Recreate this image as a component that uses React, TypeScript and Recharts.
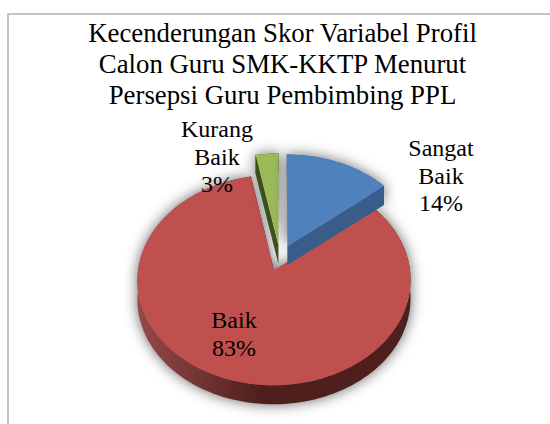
import React from 'react';
import {PieChart, Pie, Cell} from 'recharts';

const categories = ['Baik', 'Kurang Baik', 'Sangat Baik'];
const values = [83, 3, 14];
const faceColors = ['#c0504d', '#9bbb59', '#4f81bd'];
const wallColors = ['url(#redWall)', '#3b4f1f', '#385d8a'];
const titleLines = ['Kecenderungan Skor Variabel Profil', 'Calon Guru SMK-KKTP Menurut', 'Persepsi Guru Pembimbing PPL'];

const FONT = '"Liberation Serif", serif';
const WIDTH = 550;
const HEIGHT = 424;

// tilt of the pie plane, perspective strength, slice explosion, wall height
const TILT = 0.758;
const PERSP = 0.09;
const EXPLODE = 0.13;
const DEPTH = 19;

const labelOffsets: Record<string, [number, number]> = {
	'Baik': [-46, 70],
	'Kurang Baik': [-63, -121],
	'Sangat Baik': [161, -102],
};

const rad = (deg: number) => (deg * Math.PI) / 180;

function SliceShape(props: any) {
	const {cx, cy, outerRadius: R, startAngle, endAngle, index} = props;
	const mid = rad((startAngle + endAngle) / 2);
	const ox = Math.cos(mid) * EXPLODE;
	const oy = Math.sin(mid) * EXPLODE;
	// project a point of the unit disc onto the tilted plane
	const project = (u: number, v: number, drop = 0): [number, number] => {
		const w = 1 / (1 + PERSP * v);
		return [cx + R * u * w, cy - R * TILT * v * w + drop];
	};
	const count = Math.max(2, Math.ceil(Math.abs(endAngle - startAngle) / 2));
	const arc: [number, number][] = [];
	const arcDrop: [number, number][] = [];
	for (let i = 0; i <= count; i++) {
		const a = rad(startAngle + ((endAngle - startAngle) * i) / count);
		const u = ox + Math.cos(a);
		const v = oy + Math.sin(a);
		arc.push(project(u, v));
		arcDrop.push(project(u, v, DEPTH));
	}
	const apex = project(ox, oy);
	const apexDrop = project(ox, oy, DEPTH);
	const toPath = (pts: [number, number][]) =>
		'M' + pts.map((p) => p[0].toFixed(1) + ' ' + p[1].toFixed(1)).join('L') + 'Z';
	const wallColor = wallColors[index];
	const outline = toPath([apex, ...arc]) + toPath([...arc, ...arcDrop.slice().reverse()]);
	return (
		<g>
			<path d={outline} fill="#000" fillOpacity={0.6} filter="url(#sliceBlur)"/>
			<path d={toPath([apex, arc[0], arcDrop[0], apexDrop])} fill={wallColor}/>
			<path d={toPath([apex, arc[count], arcDrop[count], apexDrop])} fill={wallColor}/>
			<path d={toPath([...arc, ...arcDrop.slice().reverse()])} fill={wallColor}/>
			<path d={toPath([apex, ...arc])} fill={faceColors[index]}/>
		</g>
	);
}

function SliceLabel(props: any) {
	const {cx, cy, index, percent} = props;
	const name = categories[index];
	const [dx, dy] = labelOffsets[name];
	const words = name === 'Baik' ? [name] : name.split(' ');
	const lines = [...words, Math.round(percent * 100) + '%'];
	return (
		<text x={cx + dx} y={cy + dy} textAnchor="middle" fontFamily={FONT} fontSize={24} fill="#000">
			{lines.map((line, i) => (
				<tspan key={line} x={cx + dx} dy={i === 0 ? 0 : 27.5}>{line}</tspan>
			))}
		</text>
	);
}

export default function App() {
	const data = categories.map((name, i) => ({name, value: values[i]}));
	return (
		<div style={{position: 'absolute', left: 0, top: 0, width: WIDTH, height: HEIGHT, background: '#fff', overflow: 'hidden'}}>
			<div style={{position: 'absolute', left: 7, top: 13, width: 560, height: 430, border: '2px solid #c4c4c4', boxSizing: 'border-box'}}/>
			<div style={{position: 'absolute', left: 7, top: 18, width: 551, textAlign: 'center', fontFamily: FONT, fontSize: 26.8, lineHeight: '31px', color: '#000', whiteSpace: 'nowrap'}}>
				{titleLines.map((line) => <div key={line}>{line}</div>)}
			</div>
			<div style={{position: 'absolute', left: 0, top: 0}}>
				<PieChart width={WIDTH} height={HEIGHT} margin={{top: 0, right: 0, bottom: 0, left: 0}}>
					<defs>
						<linearGradient id="redWall" x1="0" y1="0" x2="1" y2="0">
							<stop offset="0" stopColor="#96494a"/>
							<stop offset="0.45" stopColor="#4f1f1e"/>
							<stop offset="1" stopColor="#4f1f1e"/>
						</linearGradient>
						<filter id="sliceBlur" filterUnits="userSpaceOnUse" x="0" y="0" width={WIDTH} height={HEIGHT}>
							<feGaussianBlur stdDeviation="7"/>
						</filter>
					</defs>
					<Pie
						data={data}
						dataKey="value"
						nameKey="name"
						cx={280}
						cy={258}
						outerRadius={134.5}
						startAngle={90 - 0.14 * 360}
						endAngle={90 - 0.14 * 360 - 360}
						stroke="none"
						shape={SliceShape}
						label={SliceLabel}
						labelLine={false}
						isAnimationActive={false}
					>
						{data.map((d, i) => <Cell key={d.name} fill={faceColors[i]}/>)}
					</Pie>
				</PieChart>
			</div>
		</div>
	);
}
